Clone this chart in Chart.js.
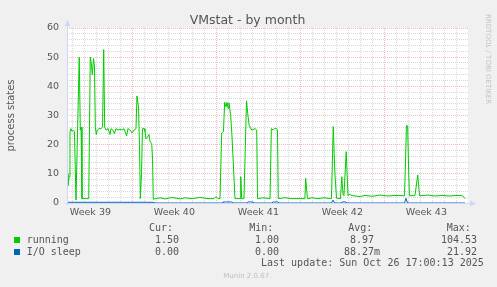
<!DOCTYPE html>
<html><head><meta charset="utf-8">
<script src="https://cdn.jsdelivr.net/npm/chart.js@4.4.1/dist/chart.umd.min.js"></script>
<style>
body{margin:0;background:#f0f0f0;}
#wrap{position:relative;width:497px;height:287px;overflow:hidden;background:#f0f0f0;}
canvas{position:absolute;left:0;top:0;}
.tx{position:absolute;white-space:pre;line-height:12px;color:#555;}
.mono{font-family:"DejaVu Sans Mono",monospace;font-size:10px;}
.sans{font-family:"DejaVu Sans",sans-serif;}
</style></head>
<body><div id="wrap"><canvas id="c" width="497" height="287"></canvas></div>
<script>
// ---- data (x = days relative to Monday of week 40) ----
const weekLabels = ['Week 39','Week 40','Week 41','Week 42','Week 43'];
const runningDays = [-5.45,-5.37,-5.28,-5.2,-5.12,-5.03,-4.91,-4.83,-4.7,-4.43,-4.34,-4.28,-4.2,-3.64,-3.51,-3.43,-3.34,-3.24,-3.16,-3.09,-3.01,-2.93,-2.78,-2.62,-2.49,-2.39,-2.31,-2.2,-2.03,-1.87,-1.78,-1.62,-1.49,-1.37,-1.2,-1.03,-0.87,-0.7,-0.48,-0.37,-0.2,-0.03,0.13,0.3,0.38,0.51,0.59,0.66,0.76,0.84,0.97,1.05,1.13,1.26,1.38,1.47,1.61,1.68,1.74,2.3,2.72,3.3,3.97,4.38,4.97,5.63,6.3,6.8,6.97,7.13,7.3,7.44,7.59,7.69,7.8,7.88,7.97,8.05,8.19,8.3,8.43,8.55,8.97,9.03,9.11,9.3,9.51,9.63,9.74,9.94,10.22,10.36,10.43,10.88,11.47,11.58,11.72,11.84,12.01,12.09,12.16,12.72,13.3,14.38,14.44,14.59,14.97,15.47,15.97,16.59,16.74,16.88,17.01,17.34,17.45,17.55,17.63,17.82,17.97,18.09,18.22,18.38,18.97,19.38,19.97,20.63,21.3,21.88,22.68,22.76,22.84,22.94,23.03,23.09,23.55,23.78,23.93,24.63,25.22,25.8,26.47,26.97,27.51,27.72];
const runningVals = [10.2,6,9,24.5,25.5,24.5,25,24.5,1,50,25,26,1.5,1.5,50,48,44,49.5,47,26,23.5,25,25.5,25.5,26,52.6,26,25,25.5,23.5,25.5,25,23.8,25.5,25,25.3,25,25.5,23,25.5,25,24,25,25.5,36.7,33,20,1.5,10,25.5,25.5,24.5,22,22.5,23.5,21,20.5,15,1.3,1.8,1.4,1.9,1.4,1.8,1.5,1.9,1.5,1.5,2.2,1.5,1.5,24,24.5,34.5,33,34.5,32.5,34.3,30,23,12,1.5,1.5,9,1.5,1.5,35,30,26.5,25,25.5,25,1.5,1.8,1.5,25.5,25,25.5,25.5,25,1.5,1.8,1.5,1.5,8.5,1.5,1.8,1.5,1.8,1.5,26.2,10,1.7,1.5,9,3,2.5,17.6,2.5,3,2.7,2.5,2.2,2.6,2.3,2.7,2.4,2.6,2.5,14,26.5,26.5,10,2.5,2.5,9.6,2.5,2.7,2.4,2.6,2.4,2.6,2.5,1.5];
const ioDays = [-5.45,1.72,1.8,7.47,7.55,8.3,8.38,9.55,9.63,10.05,10.13,11.63,11.72,12.13,12.22,16.59,16.72,16.84,17.38,17.47,17.8,17.88,22.68,22.8,22.93,27.72];
const ioVals = [0.25,0.25,0,0,0.35,0.35,0,0,0.35,0.35,0,0,0.35,0.35,0,0,1.0,0,0,0.35,0.35,0,0,1.6,0,0];
const seriesNames = ['running','I/O sleep'];
const seriesColors = ['#00cc00','#0066b3'];
const curVals = ['1.50','0.00'];
const minVals = ['1.00','0.00'];
const avgVals = ['8.97','88.27m'];
const maxVals = ['104.53','21.92'];
const lastUpdate = 'Last update: Sun Oct 26 17:00:13 2025';

const xMin = -5.45, xMax = 27.97;

const toPts = (xs, ys) => xs.map((x, i) => ({x, y: ys[i]}));

const muninPlugin = {
  id: 'munin',
  beforeDraw(chart) {
    const {ctx, chartArea: a} = chart;
    ctx.save();
    ctx.fillStyle = '#ffffff';
    ctx.fillRect(a.left, a.top, a.right - a.left, a.bottom - a.top);
    ctx.restore();
  },
  afterDatasetsDraw(chart) {
    const {ctx, chartArea: a} = chart;
    ctx.save();
    ctx.strokeStyle = '#CFD6F8';
    ctx.fillStyle = '#CFD6F8';
    ctx.lineWidth = 1;
    const y = Math.round(a.bottom) + 0.5;
    const x = Math.round(a.left) + 0.5;
    ctx.beginPath(); ctx.moveTo(a.left - 2, y); ctx.lineTo(a.right + 4, y); ctx.stroke();
    ctx.beginPath(); ctx.moveTo(x, a.bottom + 2); ctx.lineTo(x, a.top - 4); ctx.stroke();
    ctx.beginPath(); ctx.moveTo(a.right + 8, y); ctx.lineTo(a.right + 2, y - 3); ctx.lineTo(a.right + 2, y + 3); ctx.closePath(); ctx.fill();
    ctx.beginPath(); ctx.moveTo(x, a.top - 8); ctx.lineTo(x - 3, a.top - 2); ctx.lineTo(x + 3, a.top - 2); ctx.closePath(); ctx.fill();
    ctx.restore();
  }
};

const MAJOR = 'rgba(235,120,120,0.5)';
const MINOR = 'rgba(160,160,160,0.42)';

new Chart(document.getElementById('c'), {
  type: 'line',
  data: {
    datasets: [
      {label: seriesNames[1], data: toPts(ioDays, ioVals), borderColor: seriesColors[1], borderWidth: 1, pointRadius: 0, tension: 0, fill: false},
      {label: seriesNames[0], data: toPts(runningDays, runningVals), borderColor: seriesColors[0], borderWidth: 1, pointRadius: 0, tension: 0, fill: false}
    ]
  },
  plugins: [muninPlugin],
  options: {
    responsive: false, animation: false, devicePixelRatio: 1,
    layout: {padding: {left: 0, right: 29, top: 28, bottom: 0}},
    plugins: {legend: {display: false}, tooltip: {enabled: false}, title: {display: false}},
    scales: {
      x: {
        type: 'linear', min: xMin, max: xMax,
        afterFit(s) { s.height = 84; },
        afterBuildTicks(s) {
          const t = [];
          for (let v = Math.ceil(s.min * 2) / 2; v <= s.max; v += 0.5) t.push({value: v});
          s.ticks = t;
        },
        ticks: {
          autoSkip: false, maxRotation: 0, minRotation: 0, padding: 4, color: '#555',
          font: {family: 'DejaVu Sans', size: 9.5},
          callback(v) {
            const r = (((v - 3.5) % 7) + 7) % 7;
            if (Math.abs(r) < 1e-6 || Math.abs(r - 7) < 1e-6) {
              const i = Math.round((v + 3.5) / 7);
              return weekLabels[i] ?? '';
            }
            return '';
          }
        },
        grid: {
          drawTicks: false, lineWidth: 1,
          color(c) {
            const v = c.tick ? c.tick.value : NaN;
            if (Math.abs(v - Math.round(v)) > 1e-6) return 'rgba(0,0,0,0)';
            return (Math.round(v) % 7 === 0) ? MAJOR : MINOR;
          }
        },
        border: {display: false, dash: [1, 1]}
      },
      y: {
        min: 0, max: 60,
        afterFit(s) { s.width = 67; },
        ticks: {
          stepSize: 2, autoSkip: false, padding: 8, color: '#555',
          font: {family: 'DejaVu Sans', size: 9.5},
          callback(v) { return v % 10 === 0 ? String(v) : ''; }
        },
        title: {display: true, text: 'process states', color: '#555', font: {family: 'DejaVu Sans', size: 10}, padding: {top: 5.5, bottom: 0}},
        grid: {
          drawTicks: false, lineWidth: 1,
          color(c) { const v = c.tick ? c.tick.value : 0; return v % 10 === 0 ? MAJOR : MINOR; }
        },
        border: {display: false, dash: [1, 1]}
      }
    }
  }
});

// ---- text elements (title, legend, footer) ----
const wrap = document.getElementById('wrap');
function addText(text, cls, style) {
  const d = document.createElement('div');
  d.className = 'tx ' + cls;
  d.textContent = text;
  Object.assign(d.style, style);
  wrap.appendChild(d);
  return d;
}
addText('VMstat - by month', 'sans', {left: '0px', width: '495px', textAlign: 'center', top: '12px', fontSize: '12.5px', lineHeight: '16px'});
addText('RRDTOOL / TOBI OETIKER', 'sans', {left: '484px', top: '14px', fontSize: '7px', lineHeight: '8px', color: '#c4c4c4', writingMode: 'vertical-rl'});

const headers = ['Cur:', 'Min:', 'Avg:', 'Max:'];
const headerLeft = [149, 249.3, 348.3, 446.7];
headers.forEach((h, i) => addText(h, 'mono', {left: headerLeft[i] + 'px', top: '221.7px'}));

const colRight = [179, 279, 380, 477];
const rowTop = [233.9, 245.5];
const pad = s => (/\d$/.test(s) ? s + ' ' : s);
seriesNames.forEach((name, r) => {
  const sq = document.createElement('div');
  Object.assign(sq.style, {position: 'absolute', left: '14px', top: (rowTop[r] + 3.2) + 'px', width: '6px', height: '6px', background: seriesColors[r]});
  wrap.appendChild(sq);
  addText(name, 'mono', {left: '26.7px', top: rowTop[r] + 'px'});
  const vals = [curVals[r], minVals[r], pad(avgVals[r]), maxVals[r]];
  vals.forEach((v, c) => addText(v, 'mono', {right: (497 - colRight[c]) + 'px', top: rowTop[r] + 'px', textAlign: 'right'}));
});
addText(lastUpdate, 'mono', {left: '261px', top: '257.2px'});
addText('Munin 2.0.67', 'sans', {left: '223.3px', top: '270.1px', fontSize: '7px', color: '#c0c0c0'});
</script>
</body></html>
